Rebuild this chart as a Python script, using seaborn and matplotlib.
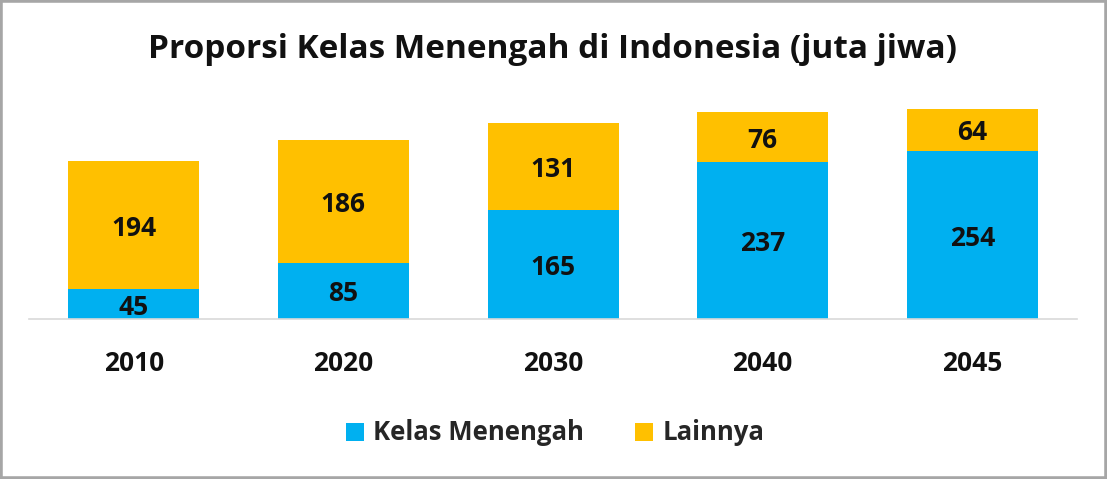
import matplotlib
matplotlib.use("Agg")
import matplotlib.pyplot as plt
import matplotlib.transforms as mtransforms
import seaborn as sns
import pandas as pd
from matplotlib.patches import Rectangle, Patch

years = ["2010", "2020", "2030", "2040", "2045"]
kelas_menengah = [45, 85, 165, 237, 254]
lainnya = [194, 186, 131, 76, 64]
series_names = ["Kelas Menengah", "Lainnya"]
colors = ["#00B0F0", "#FFC000"]

sns.set_theme(style="white")
plt.rcParams["font.family"] = ["Open Sans", "DejaVu Sans"]

totals = [a + b for a, b in zip(kelas_menengah, lainnya)]
df = pd.DataFrame({"year": years, "km": kelas_menengah, "ln": lainnya, "total": totals})

fig = plt.figure(figsize=(11.07, 4.79), dpi=100)
W, H = 1107, 479
ax = fig.add_axes([29 / W, 1 - 319 / H, (1077 - 29) / W, (319 - 100) / H])

sns.barplot(data=df, x="year", y="total", color=colors[1], width=0.625,
            saturation=1, ax=ax, linewidth=0)
sns.barplot(data=df, x="year", y="km", color=colors[0], width=0.625,
            saturation=1, ax=ax, linewidth=0)

scale = 0.661
ax.set_ylim(0, 219 / scale)
ax.set_xlim(-0.5, len(years) - 0.5)

down = mtransforms.offset_copy(ax.transData, fig=fig, x=0, y=-3, units="dots")
for i, (a, b) in enumerate(zip(kelas_menengah, lainnya)):
    ax.text(i, a / 2, str(a), ha="center", va="center", fontsize=19,
            fontweight="bold", color="#111111", transform=down)
    ax.text(i, a + b / 2, str(b), ha="center", va="center", fontsize=19,
            fontweight="bold", color="#111111", transform=down)

ax.set_xlabel("")
ax.set_ylabel("")
ax.set_yticks([])
ax.tick_params(axis="x", length=0, pad=22, labelsize=19)
for lbl in ax.get_xticklabels():
    lbl.set_fontweight("bold")
    lbl.set_color("#111111")
for s in ["top", "right", "left"]:
    ax.spines[s].set_visible(False)
ax.spines["bottom"].set_color("#d9d9d9")
ax.spines["bottom"].set_linewidth(1.2)

fig.text(553 / W, 1 - 49 / H, "Proporsi Kelas Menengah di Indonesia (juta jiwa)",
         ha="center", va="center", fontsize=24, fontweight="bold", color="#111111")

handles = [Patch(facecolor=c, edgecolor="none") for c in colors]
fig.legend(handles, series_names, loc="center", bbox_to_anchor=(555 / W, 1 - 433 / H),
           ncol=2, frameon=False, prop={"weight": "bold", "size": 18.5},
           handlelength=0.7, handleheight=0.7, handletextpad=0.35, columnspacing=2.0)

fig.patches.append(Rectangle((0, 0), 1, 1, transform=fig.transFigure, fill=False,
                             edgecolor="#a6a6a6", linewidth=4, zorder=10))

fig.savefig("out.png", dpi=100)
